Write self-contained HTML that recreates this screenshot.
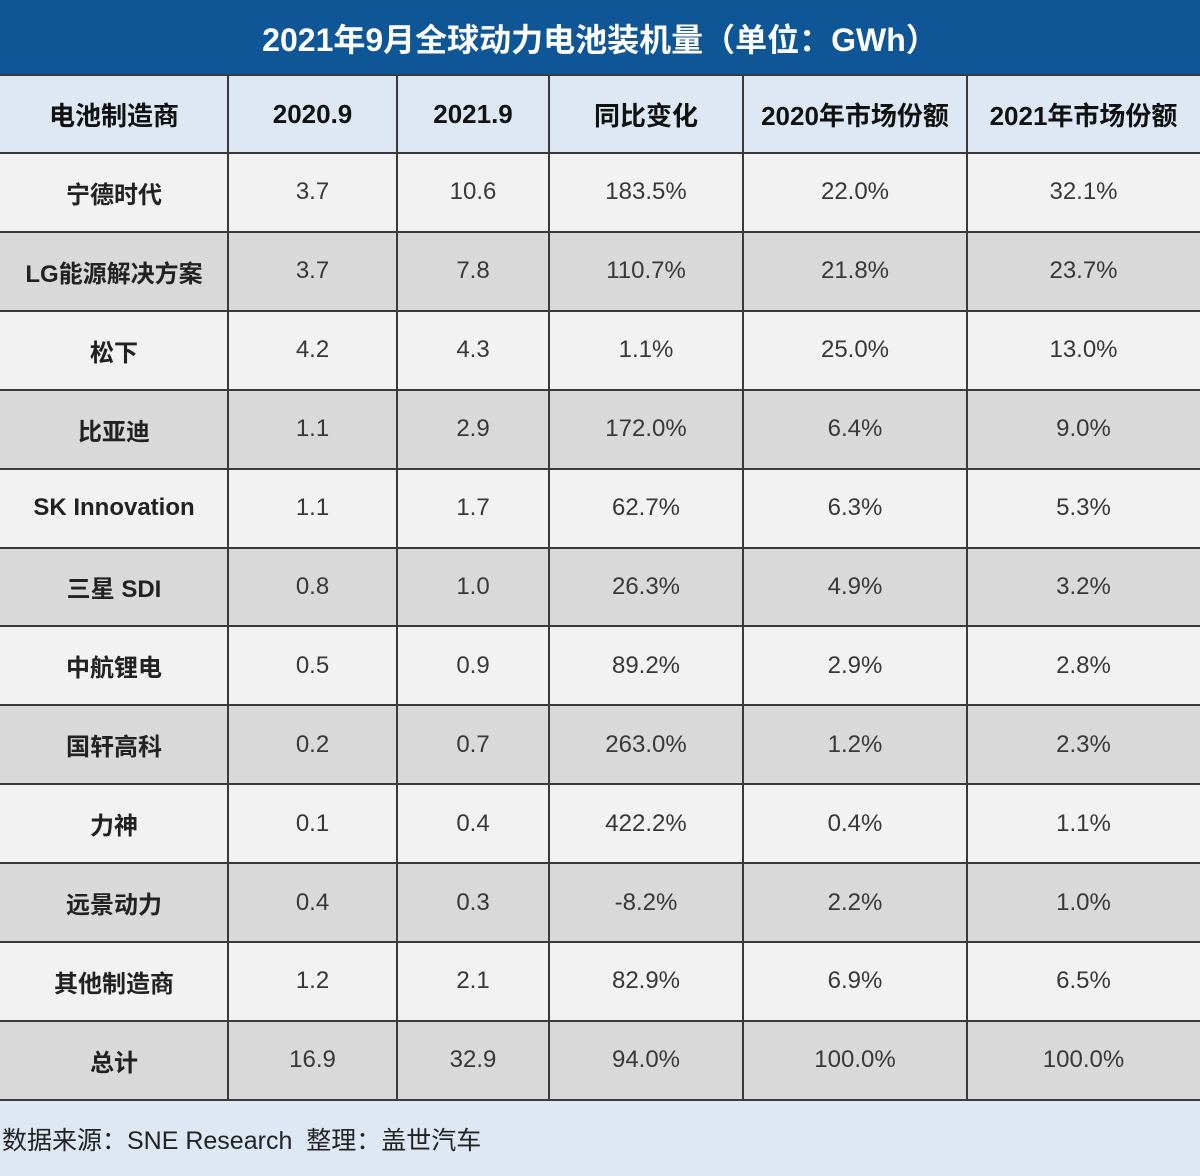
<!DOCTYPE html>
<html><head><meta charset="utf-8">
<style>
html,body{margin:0;padding:0;}
body{width:1200px;height:1176px;position:relative;overflow:hidden;background:#f2f2f2;font-family:"Liberation Sans","Noto Sans CJK SC",sans-serif;}
#title{position:absolute;left:0;top:0;width:1200px;height:75px;background:#0f5696;color:#fff;font-weight:bold;font-size:32px;display:flex;align-items:center;justify-content:center;}
.cell{position:absolute;display:flex;align-items:center;justify-content:center;box-sizing:border-box;font-size:24px;color:#383838;}
.hdr{background:#dde8f4;color:#111;font-weight:bold;font-size:26px;}
.first{font-weight:bold;color:#222;}
.hl{position:absolute;left:0;width:1200px;height:2px;background:#3a3a3a;}
.vl{position:absolute;width:2px;background:#3a3a3a;top:75px;height:1026px;}
#foot{position:absolute;left:0;top:1101px;width:1200px;height:75px;background:#dde8f4;font-size:25px;color:#222;display:flex;align-items:center;padding-left:2px;box-sizing:border-box;}
</style></head>
<body>
<div id="title">2021年9月全球动力电池装机量（单位：GWh）</div>
<div id="tbl"></div>
<div id="foot">数据来源：SNE Research&nbsp; 整理：盖世汽车</div>
<script>
const headers=["电池制造商","2020.9","2021.9","同比变化","2020年市场份额","2021年市场份额"];
const makers=["宁德时代","LG能源解决方案","松下","比亚迪","SK Innovation","三星 SDI","中航锂电","国轩高科","力神","远景动力","其他制造商","总计"];
const v2020=["3.7","3.7","4.2","1.1","1.1","0.8","0.5","0.2","0.1","0.4","1.2","16.9"];
const v2021=["10.6","7.8","4.3","2.9","1.7","1.0","0.9","0.7","0.4","0.3","2.1","32.9"];
const yoy=["183.5%","110.7%","1.1%","172.0%","62.7%","26.3%","89.2%","263.0%","422.2%","-8.2%","82.9%","94.0%"];
const share2020=["22.0%","21.8%","25.0%","6.4%","6.3%","4.9%","2.9%","1.2%","0.4%","2.2%","6.9%","100.0%"];
const share2021=["32.1%","23.7%","13.0%","9.0%","5.3%","3.2%","2.8%","2.3%","1.1%","1.0%","6.5%","100.0%"];
const colX=[0,228,397,549,743,967,1200];
const top0=75, hdrH=78, rowH=78.9;
const t=document.getElementById('tbl');
function cell(txt,c,y,h,cls,bg){
  const d=document.createElement('div');
  d.className='cell '+cls;
  d.style.left=colX[c]+'px';d.style.top=y+'px';
  d.style.width=(colX[c+1]-colX[c])+'px';d.style.height=h+'px';
  if(bg)d.style.background=bg;
  d.textContent=txt;
  
  
  t.appendChild(d);
}
headers.forEach((h,i)=>cell(h,i,top0,hdrH,'hdr'));
const cols=[makers,v2020,v2021,yoy,share2020,share2021];
makers.forEach((m,r)=>{
  const y=top0+hdrH+r*rowH;
  const bg=r%2===0?'#f2f2f2':'#d9d9d9';
  cols.forEach((arr,c)=>cell(arr[r],c,y,rowH,c===0?'first':'',bg));
});
for(let r=0;r<=makers.length+1;r++){
  const y=r===0?top0:top0+hdrH+(r-1)*rowH;
  const l=document.createElement('div');l.className='hl';l.style.top=(y-1)+'px';
  
  
  t.appendChild(l);
}
for(let c=1;c<colX.length-1;c++){
  const l=document.createElement('div');l.className='vl';l.style.left=(colX[c]-1)+'px';
  
  
  t.appendChild(l);
}
</script>
</body></html>
